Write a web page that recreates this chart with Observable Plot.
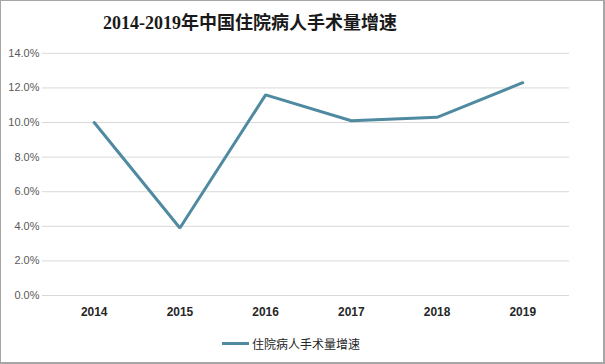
<!DOCTYPE html>
<html>
<head>
<meta charset="utf-8">
<script src="https://cdn.jsdelivr.net/npm/d3@7"></script>
<script src="https://cdn.jsdelivr.net/npm/@observablehq/plot@0.6"></script>
<style>
  html, body { margin: 0; padding: 0; background: #fff; }
  #wrap { position: relative; width: 605px; height: 364px; box-sizing: border-box; border: 1px solid #a6a6a6; border-right-width: 2px; border-bottom-width: 2px; overflow: hidden; }
  #title { position: absolute; left: 102px; top: 7px; font-family: "Liberation Serif", "Noto Sans CJK SC", serif; font-weight: bold; font-size: 18px; color: #1a1a1a; white-space: nowrap; }
  #legend { position: absolute; left: 221px; top: 334px; font-family: "Noto Sans CJK SC", sans-serif; font-size: 12px; color: #262626; display: flex; align-items: center; white-space: nowrap; }
  #legend .sw { width: 27px; height: 3px; background: #4f8aa0; margin-right: 3px; }
  #chart { position: absolute; left: -1px; top: -1px; }
</style>
</head>
<body>
<div id="wrap">
  <div id="chart"></div>
  <div id="title">2014-2019年中国住院病人手术量增速</div>
  <div id="legend"><span class="sw"></span><span>住院病人手术量增速</span></div>
</div>
<script>
const years = ["2014", "2015", "2016", "2017", "2018", "2019"];
const growth = [0.100, 0.039, 0.116, 0.101, 0.103, 0.123];
const yTicks = [0, 0.02, 0.04, 0.06, 0.08, 0.10, 0.12, 0.14];
const seriesName = "住院病人手术量增速";

const data = years.map((y, i) => ({year: y, value: growth[i], series: seriesName}));

const chart = Plot.plot({
  width: 605,
  height: 364,
  marginTop: 53,
  marginBottom: 68,
  marginLeft: 42,
  marginRight: 34,
  style: {background: "transparent", fontFamily: "Liberation Sans, Arial, sans-serif", fontSize: "11px"},
  x: {type: "point", domain: years, range: [93, 525], padding: 0, label: null},
  y: {domain: [0, 0.14], label: null},
  marks: [
    Plot.gridY(yTicks, {stroke: "#d9d9d9", strokeOpacity: 1, strokeWidth: 1}),
    Plot.axisY(yTicks, {tickFormat: d3.format(".1%"), tickSize: 0, tickPadding: 3, fill: "#595959", fontSize: 11}),
    Plot.axisX(years, {tickSize: 0, tickPadding: 12, fontWeight: "bold", fontSize: 12, fill: "#262626", fontFamily: "Liberation Sans, Arial, sans-serif"}),
    Plot.line(data, {x: "year", y: "value", stroke: "#4f8aa0", strokeWidth: 3, strokeLinejoin: "miter"})
  ]
});
document.getElementById("chart").appendChild(chart);
</script>
</body>
</html>
